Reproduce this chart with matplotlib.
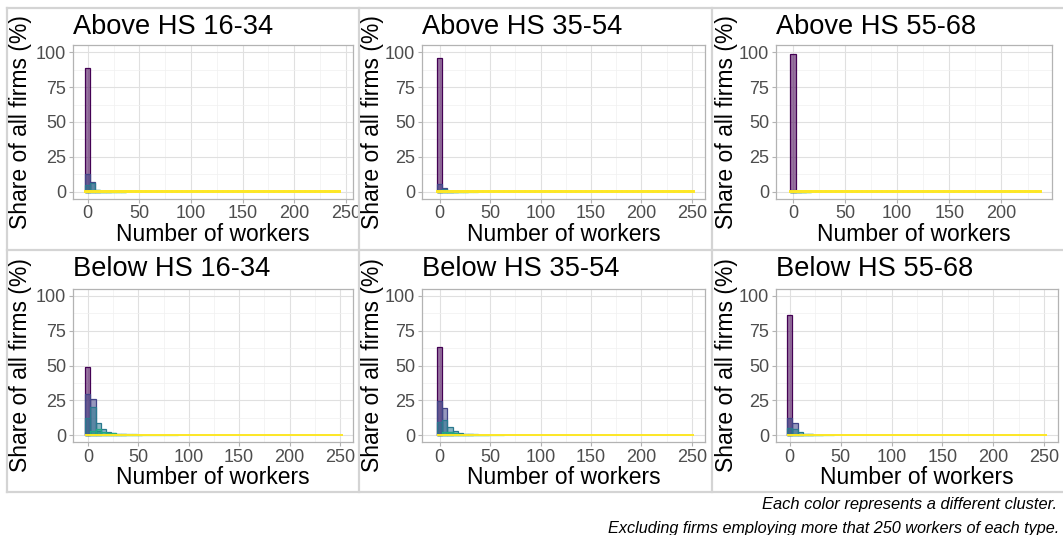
import numpy as np
import matplotlib
matplotlib.use("Agg")
import matplotlib.pyplot as plt
from matplotlib.lines import Line2D
from matplotlib.ticker import MultipleLocator
from matplotlib.transforms import Bbox, TransformedBbox

plt.rcParams['font.family'] = ['Liberation Sans', 'DejaVu Sans']

W, H, DPI = 1063, 535, 100

# ---------------- data ----------------
titles = ["Above HS 16-34", "Above HS 35-54", "Above HS 55-68",
          "Below HS 16-34", "Below HS 35-54", "Below HS 55-68"]
cluster_colors = ["#440154", "#414487", "#2A788E", "#22A884", "#7AD151", "#FDE725"]
bin_widths = [4.94, 5.1, 4.9, 5.1, 5.1, 5.1]
x_limits = [(-14.5, 256.5), (-17.5, 263), (-16.3, 248.5), (-15, 262.5), (-17.5, 263), (-13.5, 263.5)]
x_ticks = [[0, 50, 100, 150, 200, 250], [0, 50, 100, 150, 200, 250], [0, 50, 100, 150, 200],
           [0, 50, 100, 150, 200, 250], [0, 50, 100, 150, 200, 250], [0, 50, 100, 150, 200, 250]]
y_ticks = [0, 25, 50, 75, 100]

# share of firms (%) per bin (bin 0 centred at 0) for clusters 1-5
above_16_34 = [
    [89.0],
    [12.6, 7.1, 0.3],
    [4.8, 6.0, 1.4, 0.6, 0.3],
    [0.0, 0.8, 1.2, 0.7, 0.5, 0.4, 0.3, 0.2],
    [0.0, 0.0, 0.2, 0.3, 0.25, 0.2, 0.15, 0.1],
]
above_35_54 = [
    [96.0],
    [5.2, 2.4, 0.3],
    [1.2, 1.6, 0.7, 0.3],
    [0.0, 0.3, 0.4, 0.3, 0.2, 0.1],
    [0.0, 0.0, 0.1, 0.15, 0.15, 0.1, 0.1, 0.1],
]
above_55_68 = [
    [99.0],
    [0.8, 0.5],
    [0.3, 0.3, 0.2],
    [0.0, 0.1, 0.1, 0.1],
    [0.0, 0.0, 0.05, 0.05],
]
below_16_34 = [
    [49.0],
    [29.5, 26.0, 3.0],
    [12.3, 20.0, 8.4, 4.3, 2.4, 1.4, 0.8, 0.5],
    [0.0, 3.0, 4.0, 2.5, 1.8, 1.2, 0.9, 0.7, 0.5, 0.4, 0.3],
    [0.0, 0.0, 0.0, 0.3, 0.4, 0.4, 0.35, 0.3, 0.3, 0.25, 0.2, 0.2, 0.15, 0.15, 0.1, 0.1, 0.1, 0.1],
]
below_35_54 = [
    [63.5],
    [24.3, 19.7, 2.0],
    [9.4, 11.0, 6.0, 3.1, 1.7, 1.0, 0.6],
    [0.0, 2.0, 2.5, 1.6, 1.1, 0.8, 0.6, 0.4, 0.3, 0.2],
    [0.0, 0.0, 0.0, 0.2, 0.3, 0.3, 0.25, 0.2, 0.2, 0.15, 0.1, 0.1, 0.1],
]
below_55_68 = [
    [86.0],
    [12.3, 8.7, 1.0],
    [5.0, 4.0, 2.2, 1.0, 0.6],
    [0.0, 0.6, 0.8, 0.5, 0.4, 0.3, 0.2],
    [0.0, 0.0, 0.1, 0.15, 0.15, 0.1, 0.1, 0.1, 0.05],
]
# cluster 6 (yellow): near-zero share in every bin up to the maximum
yellow_above_16_34 = [0.05, 0.05, 0.05, 0.05, 0.05, 0.05, 0.05, 0.05, 0.05, 0.05,
                      0.05, 0.05, 0.05, 0.05, 0.05, 0.05, 0.05, 0.05, 0.05, 0.05,
                      0.05, 0.05, 0.05, 0.05, 0.05, 0.05, 0.05, 0.05, 0.05, 0.05,
                      0.05, 0.05, 0.05, 0.05, 0.05, 0.05, 0.05, 0.05, 0.05, 0.05,
                      0.05, 0.05, 0.05, 0.05, 0.05, 0.05, 0.05, 0.05, 0.05, 0.05]
yellow_above_35_54 = [0.04, 0.04, 0.04, 0.04, 0.04, 0.04, 0.04, 0.04, 0.04, 0.04,
                      0.04, 0.04, 0.04, 0.04, 0.04, 0.04, 0.04, 0.04, 0.04, 0.04,
                      0.04, 0.04, 0.04, 0.04, 0.04, 0.04, 0.04, 0.04, 0.04, 0.04,
                      0.04, 0.04, 0.04, 0.04, 0.04, 0.04, 0.04, 0.04, 0.04, 0.04,
                      0.04, 0.04, 0.04, 0.04, 0.04, 0.04, 0.04, 0.04, 0.04, 0.04]
yellow_above_55_68 = [0.03, 0.03, 0.03, 0.03, 0.03, 0.03, 0.03, 0.03, 0.03, 0.03,
                      0.03, 0.03, 0.03, 0.03, 0.03, 0.03, 0.03, 0.03, 0.03, 0.03,
                      0.03, 0.03, 0.03, 0.03, 0.03, 0.03, 0.03, 0.03, 0.03, 0.03,
                      0.03, 0.03, 0.03, 0.03, 0.03, 0.03, 0.03, 0.03, 0.03, 0.03,
                      0.03, 0.03, 0.03, 0.03, 0.03, 0.03, 0.03, 0.03, 0.03]
yellow_below_16_34 = [0.06, 0.06, 0.06, 0.06, 0.06, 0.06, 0.06, 0.06, 0.06, 0.06,
                      0.06, 0.06, 0.06, 0.06, 0.06, 0.06, 0.06, 0.06, 0.06, 0.06,
                      0.06, 0.06, 0.06, 0.06, 0.06, 0.06, 0.06, 0.06, 0.06, 0.06,
                      0.06, 0.06, 0.06, 0.06, 0.06, 0.06, 0.06, 0.06, 0.06, 0.06,
                      0.06, 0.06, 0.06, 0.06, 0.06, 0.06, 0.06, 0.06, 0.06, 0.06]
yellow_below_35_54 = [0.05, 0.05, 0.05, 0.05, 0.05, 0.05, 0.05, 0.05, 0.05, 0.05,
                      0.05, 0.05, 0.05, 0.05, 0.05, 0.05, 0.05, 0.05, 0.05, 0.05,
                      0.05, 0.05, 0.05, 0.05, 0.05, 0.05, 0.05, 0.05, 0.05, 0.05,
                      0.05, 0.05, 0.05, 0.05, 0.05, 0.05, 0.05, 0.05, 0.05, 0.05,
                      0.05, 0.05, 0.05, 0.05, 0.05, 0.05, 0.05, 0.05, 0.05, 0.05]
yellow_below_55_68 = [0.04, 0.04, 0.04, 0.04, 0.04, 0.04, 0.04, 0.04, 0.04, 0.04,
                      0.04, 0.04, 0.04, 0.04, 0.04, 0.04, 0.04, 0.04, 0.04, 0.04,
                      0.04, 0.04, 0.04, 0.04, 0.04, 0.04, 0.04, 0.04, 0.04, 0.04,
                      0.04, 0.04, 0.04, 0.04, 0.04, 0.04, 0.04, 0.04, 0.04, 0.04,
                      0.04, 0.04, 0.04, 0.04, 0.04, 0.04, 0.04, 0.04, 0.04, 0.04]

panels = [above_16_34, above_35_54, above_55_68, below_16_34, below_35_54, below_55_68]
yellows = [yellow_above_16_34, yellow_above_35_54, yellow_above_55_68,
           yellow_below_16_34, yellow_below_35_54, yellow_below_55_68]

caption_1 = "Each color represents a different cluster."
caption_2 = "Excluding firms employing more that 250 workers of each type."

# ---------------- layout (pixels) ----------------
col_x = [(72.7, 352.7), (422.0, 705.0), (776.0, 1058.0)]
col_x_top_right = (776.0, 1052.0)
row_y = [(45.4, 198.5), (289.0, 442.0)]
ylab_x = [21, 373, 726]
title_base = [33.5, 276.5]
xlab_base = [240.7, 483.7]
box_x = [6.5, 359, 712, 1064]
box_y = [8, 250, 492]

fig = plt.figure(figsize=(W / DPI, H / DPI), dpi=DPI)
fig.patch.set_facecolor("white")


def fx(px):
    return px / W


def fy(py):
    return 1 - py / H


# outer boxes of each sub-plot
box_col = "#d4d4d4"
for xv in box_x[:3]:
    fig.add_artist(Line2D([fx(xv), fx(xv)], [fy(box_y[0]), fy(box_y[2])], color=box_col, lw=1.6))
for yv in box_y:
    fig.add_artist(Line2D([fx(box_x[0]), fx(box_x[3])], [fy(yv), fy(yv)], color=box_col, lw=1.6))

for i in range(6):
    r, c = divmod(i, 3)
    x0, x1 = col_x_top_right if i == 2 else col_x[c]
    y0, y1 = row_y[r]
    ax = fig.add_axes([fx(x0), fy(y1), (x1 - x0) / W, (y1 - y0) / H])
    ax.set_facecolor("white")
    bw = bin_widths[i]
    clusters = panels[i] + [yellows[i]]
    for k, heights in enumerate(clusters):
        xs = np.arange(len(heights)) * bw
        colr = cluster_colors[k]
        lw = 1.4 if k == len(clusters) - 1 else 0.9
        ax.bar(xs, heights, width=bw, color=colr, alpha=0.55, linewidth=0, zorder=3 + k)
        ax.bar(xs, heights, width=bw, fill=False, edgecolor=colr, linewidth=lw, zorder=3 + k)
    ax.set_xlim(*x_limits[i])
    ax.set_ylim(-5, 105)
    ax.set_xticks(x_ticks[i])
    ax.set_yticks(y_ticks)
    ax.xaxis.set_minor_locator(MultipleLocator(25))
    ax.yaxis.set_minor_locator(MultipleLocator(12.5))
    ax.grid(which="major", color="#e0e0e0", lw=0.8, zorder=0)
    ax.grid(which="minor", color="#f0f0f0", lw=0.5, zorder=0)
    ax.set_axisbelow(True)
    for s in ax.spines.values():
        s.set_color("#b3b3b3")
        s.set_linewidth(0.9)
    ax.tick_params(which="major", length=3.2, width=0.8, color="#b3b3b3",
                   labelsize=13, labelcolor="#4d4d4d", pad=1.6)
    ax.tick_params(which="minor", length=0)
    # clip tick labels to the sub-plot box
    bx0, bx1 = box_x[c], box_x[c + 1]
    by0, by1 = box_y[r], box_y[r + 1]
    clip = TransformedBbox(Bbox.from_extents(fx(bx0), fy(by1), fx(bx1), fy(by0)), fig.transFigure)
    for t in ax.xaxis.get_major_ticks() + ax.yaxis.get_major_ticks():
        t.label1.set_clip_box(clip)
        t.label1.set_clip_on(True)
    fig.text(fx(x0), fy(title_base[r]), titles[i], fontsize=19.6, color="black",
             ha="left", va="baseline")
    fig.text(fx((x0 + x1) / 2), fy(xlab_base[r]), "Number of workers", fontsize=16.5,
             color="black", ha="center", va="baseline")
    fig.text(fx(ylab_x[c]), fy((y0 + y1) / 2), "Share of all firms (%)", fontsize=16.5,
             color="black", ha="center", va="center", rotation=90)

fig.text(fx(1057), fy(509.3), caption_1, fontsize=11.9, style="italic",
         ha="right", va="baseline", color="black")
fig.text(fx(1059), fy(533), caption_2, fontsize=11.7, style="italic",
         ha="right", va="baseline", color="black")

fig.savefig("out.png", dpi=DPI, facecolor="white")
